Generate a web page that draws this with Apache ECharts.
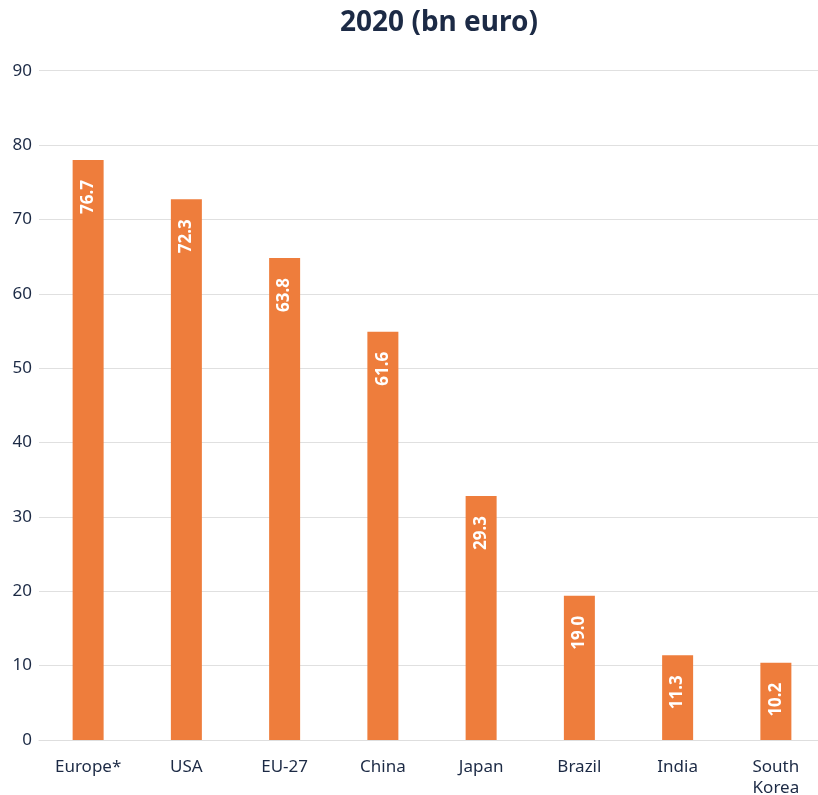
<!DOCTYPE html>
<html>
<head>
<meta charset="utf-8">
<script src="https://cdn.jsdelivr.net/npm/echarts@6/dist/echarts.min.js"></script>
<style>
  html, body { margin: 0; padding: 0; background: #fff; }
  #chart { width: 818px; height: 795px; }
</style>
</head>
<body>
<div id="chart"></div>
<script>
// data
var categories = ['Europe*', 'USA', 'EU-27', 'China', 'Japan', 'Brazil', 'India', 'South\nKorea'];
var barValues = [78.0, 72.7, 64.8, 54.9, 32.8, 19.4, 11.4, 10.4]; // bar heights as drawn
var barLabels = ['76.7', '72.3', '63.8', '61.6', '29.3', '19.0', '11.3', '10.2']; // printed labels
var yTicks = { min: 0, max: 90, interval: 10 };

var textColor = '#1c2a45';
var font = 'Noto Sans';

var chart = echarts.init(document.getElementById('chart'), null, { renderer: 'canvas' });

var option = {
  backgroundColor: '#fff',
  animation: false,
  textStyle: { fontFamily: font },
  title: {
    text: '2020 (bn euro)',
    left: 434,
    top: 4,
    textAlign: 'center',
    textStyle: { fontFamily: font, fontSize: 28, fontWeight: 'bold', color: textColor }
  },
  grid: {
    left: 39,
    width: 786,
    top: 70.7,
    bottom: 55,
    containLabel: false,
    outerBoundsMode: 'none'
  },
  xAxis: {
    type: 'category',
    data: categories,
    axisLine: { show: true, lineStyle: { color: '#dedede', width: 1 } },
    axisTick: { show: false },
    axisLabel: {
      color: textColor,
      fontSize: 17,
      fontFamily: font,
      margin: 17,
      lineHeight: 21,
      interval: 0
    }
  },
  yAxis: {
    type: 'value',
    min: yTicks.min,
    max: yTicks.max,
    interval: yTicks.interval,
    axisLine: { show: false },
    axisTick: { show: false },
    splitLine: { lineStyle: { color: '#e0e0e0', width: 1 } },
    axisLabel: { color: textColor, fontSize: 17, fontFamily: font, margin: 7 }
  },
  series: [
    {
      type: 'bar',
      data: barValues,
      barWidth: 31,
      itemStyle: { color: '#ee7d3c' },
      label: {
        show: true,
        position: 'insideTop',
        rotate: 90,
        align: 'right',
        verticalAlign: 'middle',
        distance: 20,
        color: '#fff',
        fontSize: 17,
        fontWeight: 'bold',
        fontFamily: font,
        formatter: function (p) { return barLabels[p.dataIndex]; }
      }
    }
  ]
};

chart.setOption(option);
</script>
</body>
</html>
